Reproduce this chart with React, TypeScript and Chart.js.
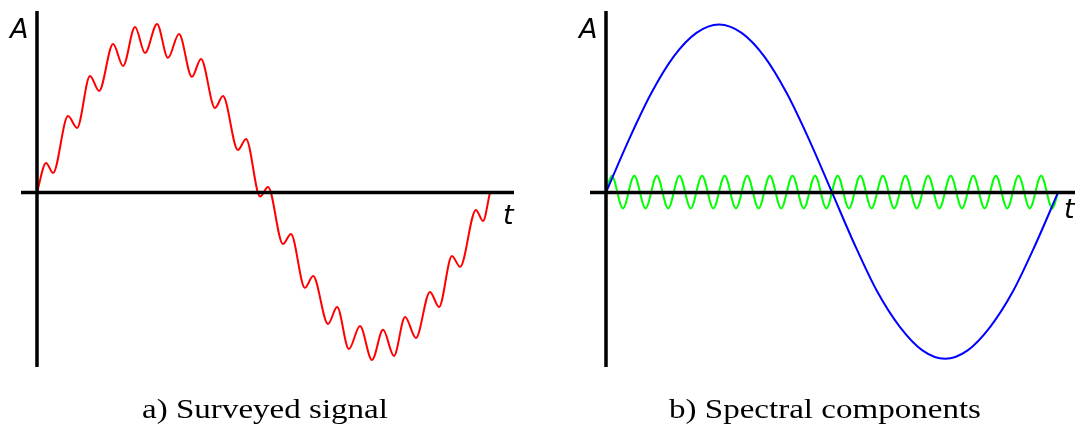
import React, { useEffect, useRef } from "react";
import { Chart, registerables } from "chart.js";

Chart.register(...registerables);

// ---- Data (t in periods of the fast component, A normalised) ----
// a) surveyed signal: local extrema
const signalT = [0, 0.40, 0.71, 1.37, 1.77, 2.34, 2.74, 3.36, 3.80, 4.33, 4.77, 5.30, 5.78, 6.27, 6.84, 7.24, 7.86, 8.21, 8.87, 9.23, 9.85, 10.20, 10.86, 11.21, 11.83, 12.19, 12.85, 13.25, 13.77, 14.26, 14.79, 15.28, 15.76, 16.25, 16.73, 17.35, 17.75, 18.32, 18.68, 19.38, 19.69, 20];
const signalA = [0, 0.176, 0.116, 0.455, 0.384, 0.693, 0.604, 0.884, 0.753, 0.985, 0.830, 1.003, 0.801, 0.943, 0.688, 0.795, 0.503, 0.574, 0.253, 0.318, -0.024, 0.033, -0.307, -0.247, -0.568, -0.497, -0.783, -0.682, -0.932, -0.795, -0.997, -0.818, -0.973, -0.741, -0.866, -0.592, -0.682, -0.378, -0.443, -0.104, -0.170, 0];

// b) slow spectral component (blue)
const slowT = [0, 1, 2, 3, 4, 5, 6, 7, 8, 9, 10, 11, 12, 13, 14, 15, 16, 17, 18, 19, 20];
const slowA = [0, 0.31, 0.59, 0.81, 0.95, 1.0, 0.95, 0.81, 0.59, 0.31, 0, -0.31, -0.59, -0.80, -0.94, -0.99, -0.94, -0.80, -0.59, -0.31, 0];

// b) fast spectral component (green): extrema
const fastT = [0, 0.25, 0.75, 1.25, 1.75, 2.25, 2.75, 3.25, 3.75, 4.25, 4.75, 5.25, 5.75, 6.25, 6.75, 7.25, 7.75, 8.25, 8.75, 9.25, 9.75, 10.25, 10.75, 11.25, 11.75, 12.25, 12.75, 13.25, 13.75, 14.25, 14.75, 15.25, 15.75, 16.25, 16.75, 17.25, 17.75, 18.25, 18.75, 19.25, 19.75, 20];
const fastA = [0, 0.10, -0.095, 0.10, -0.095, 0.10, -0.095, 0.10, -0.095, 0.10, -0.095, 0.10, -0.095, 0.10, -0.095, 0.10, -0.095, 0.10, -0.095, 0.10, -0.095, 0.10, -0.095, 0.10, -0.095, 0.10, -0.095, 0.10, -0.095, 0.10, -0.095, 0.10, -0.095, 0.10, -0.095, 0.10, -0.095, 0.10, -0.095, 0.10, -0.095, 0];

const captions = ["a) Surveyed signal", "b) Spectral components"];
const axisLabels = ["A", "t"];

type Series = { t: number[]; a: number[]; color: string };

type PanelProps = {
  left: number;
  width: number;
  series: Series[];
  xMin: number;
  xMax: number;
  yMin: number;
  yMax: number;
  padding: { left: number; right: number; top: number; bottom: number };
  caption: string;
  captionX: number;
  captionScale: number;
  aPos: [number, number];
  tPos: [number, number];
};

const HEIGHT = 426;

function Panel(p: PanelProps) {
  const ref = useRef<HTMLCanvasElement | null>(null);
  useEffect(() => {
    if (!ref.current) return;
    const axesPlugin = {
      id: "axesAndText",
      afterDatasetsDraw(chart: any) {
        const ctx = chart.ctx as CanvasRenderingContext2D;
        const area = chart.chartArea;
        const x0 = chart.scales.x.getPixelForValue(0);
        const y0 = chart.scales.y.getPixelForValue(0);
        ctx.save();
        ctx.strokeStyle = "#000";
        ctx.lineWidth = 3.5;
        ctx.lineCap = "butt";
        ctx.beginPath();
        ctx.moveTo(area.left, y0);
        ctx.lineTo(area.right, y0);
        ctx.moveTo(x0, area.top);
        ctx.lineTo(x0, area.bottom);
        ctx.stroke();

        ctx.fillStyle = "#000";
        ctx.textAlign = "left";
        ctx.textBaseline = "alphabetic";
        ctx.font = "italic 27px 'DejaVu Sans'";
        ctx.fillText(axisLabels[0], p.aPos[0], p.aPos[1]);
        ctx.fillText(axisLabels[1], p.tPos[0], p.tPos[1]);

        ctx.translate(p.captionX, 418);
        ctx.scale(p.captionScale, 1);
        ctx.textAlign = "center";
        ctx.font = "28px 'Liberation Serif'";
        ctx.fillText(p.caption, 0, 0);
        ctx.restore();
      },
    };
    const chart = new Chart(ref.current, {
      type: "line",
      data: {
        datasets: p.series.map((s) => ({
          data: s.t.map((t, i) => ({ x: t, y: s.a[i] })),
          borderColor: s.color,
          borderWidth: 2,
          pointRadius: 0,
          fill: false,
          cubicInterpolationMode: "monotone" as const,
        })),
      },
      options: {
        responsive: false,
        animation: false,
        events: [],
        layout: { padding: p.padding },
        plugins: { legend: { display: false }, tooltip: { enabled: false }, title: { display: false } },
        scales: {
          x: { type: "linear", display: false, min: p.xMin, max: p.xMax },
          y: { type: "linear", display: false, min: p.yMin, max: p.yMax },
        },
      },
      plugins: [axesPlugin],
    });
    return () => chart.destroy();
  }, []);
  return (
    <canvas
      ref={ref}
      width={p.width}
      height={HEIGHT}
      style={{ position: "absolute", left: p.left, top: 0, width: p.width, height: HEIGHT }}
    />
  );
}

export default function App() {
  return (
    <div style={{ position: "absolute", left: 0, top: 0, width: 1075, height: HEIGHT, background: "#fff", overflow: "hidden" }}>
      <Panel
        left={0}
        width={540}
        series={[{ t: signalT, a: signalA, color: "#ff0000" }]}
        xMin={-0.706}
        xMax={21.06}
        yMin={-1.039}
        yMax={1.08}
        padding={{ left: 21, right: 26, top: 11, bottom: 59 }}
        caption={captions[0]}
        captionX={265}
        captionScale={1.18}
        aPos={[10, 38]}
        tPos={[503, 224]}
      />
      <Panel
        left={540}
        width={535}
        series={[
          { t: slowT, a: slowA, color: "#0000ff" },
          { t: fastT, a: fastA, color: "#00ff00" },
        ]}
        xMin={-0.708}
        xMax={20.75}
        yMin={-1.039}
        yMax={1.08}
        padding={{ left: 50, right: 0, top: 11, bottom: 59 }}
        caption={captions[1]}
        captionX={285}
        captionScale={1.18}
        aPos={[39, 38]}
        tPos={[524, 218]}
      />
    </div>
  );
}
